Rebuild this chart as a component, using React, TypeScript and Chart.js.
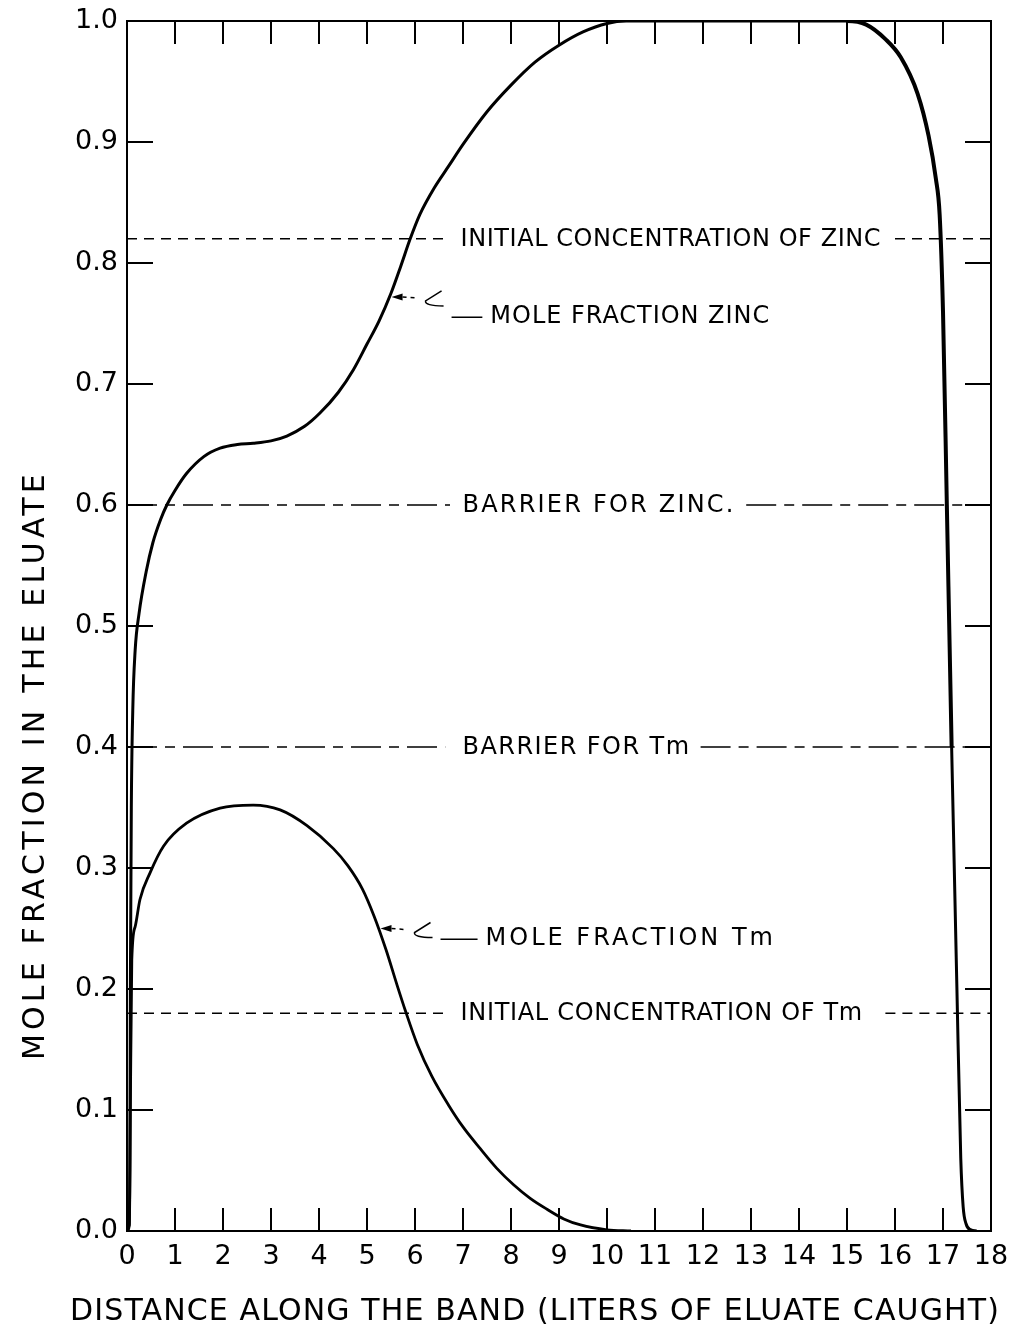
import React, { useEffect, useRef } from "react";
import { Chart, registerables } from "chart.js";

Chart.register(...registerables);

// ---- data ----
const zincX = [0, 0.04, 0.06, 0.07, 0.09, 0.12, 0.17, 0.25, 0.4, 0.54, 0.7, 0.83, 1.0, 1.24, 1.6, 1.94, 2.3, 2.63, 3.0, 3.33, 3.7, 4.02, 4.4, 4.72, 5.0, 5.25, 5.5, 5.7, 5.9, 6.1, 6.4, 6.7, 7.0, 7.5, 8.0, 8.5, 9.0, 9.5, 10.0, 10.4, 15.0, 15.4, 15.8, 16.12, 16.47, 16.7, 16.85, 16.93, 17.0, 17.08, 17.18, 17.29, 17.37, 17.42, 17.48, 17.58, 17.7];
const zincY = [0, 0.005, 0.05, 0.2, 0.35, 0.43, 0.48, 0.51, 0.545, 0.569, 0.588, 0.6, 0.612, 0.626, 0.64, 0.647, 0.65, 0.651, 0.653, 0.657, 0.665, 0.676, 0.693, 0.712, 0.733, 0.752, 0.775, 0.797, 0.82, 0.84, 0.862, 0.88, 0.898, 0.925, 0.947, 0.966, 0.98, 0.991, 0.998, 1.0, 1.0, 0.997, 0.985, 0.97, 0.94, 0.905, 0.87, 0.84, 0.76, 0.6, 0.4, 0.2, 0.06, 0.02, 0.006, 0.001, 0];

const tmX = [0, 0.05, 0.07, 0.1, 0.17, 0.27, 0.48, 0.76, 1.24, 1.94, 2.63, 3.19, 3.75, 4.3, 4.6, 4.9, 5.15, 5.4, 5.62, 5.8, 6.05, 6.35, 6.7, 7.0, 7.36, 7.7, 8.06, 8.4, 8.75, 9.1, 9.45, 10.0, 10.5];
const tmY = [0, 0.005, 0.1, 0.224, 0.2515, 0.274, 0.296, 0.318, 0.337, 0.3495, 0.352, 0.348, 0.335, 0.316, 0.302, 0.283, 0.26, 0.232, 0.204, 0.182, 0.154, 0.128, 0.104, 0.086, 0.068, 0.052, 0.038, 0.027, 0.018, 0.01, 0.005, 0.001, 0];

const xTickValues = [0, 1, 2, 3, 4, 5, 6, 7, 8, 9, 10, 11, 12, 13, 14, 15, 16, 17, 18];
const yTickValues = [0, 0.1, 0.2, 0.3, 0.4, 0.5, 0.6, 0.7, 0.8, 0.9, 1.0];

const refLevels = [0.82, 0.6, 0.4, 0.18];
const refLabels = ["INITIAL CONCENTRATION OF ZINC", "BARRIER FOR ZINC.", "BARRIER FOR Tm", "INITIAL CONCENTRATION OF Tm"];
const refGapStart = [6.67, 6.73, 6.63, 6.67];
const refGapEnd = [16.0, 12.9, 11.95, 15.8];
const refLabelStart = [6.95, 6.99, 6.99, 6.95];
const refLabelEnd = [15.71, 12.68, 11.74, 15.33];

const curveLabels = ["MOLE FRACTION ZINC", "MOLE FRACTION Tm"];
const curveLabelStart = [7.57, 7.47];
const curveLabelEnd = [13.4, 13.52];
const curveLabelY = [0.756, 0.242];
const curveArrowX = [5.47, 5.24];
const curveArrowY = [0.772, 0.25];

const xTitle = "DISTANCE ALONG THE BAND (LITERS OF ELUATE CAUGHT)";
const yTitle = "MOLE FRACTION IN THE ELUATE";

const FONT = "'DejaVu Sans', 'Liberation Sans', sans-serif";

function fitText(ctx: CanvasRenderingContext2D, text: string, x: number, y: number, width: number) {
  (ctx as any).letterSpacing = "0px";
  const w = ctx.measureText(text).width;
  const ls = (width - w) / Math.max(text.length, 1);
  (ctx as any).letterSpacing = ls + "px";
  ctx.textAlign = "left";
  ctx.fillText(text, x, y);
  (ctx as any).letterSpacing = "0px";
}

const decor = {
  id: "decor",
  afterDatasetsDraw(chart: any) {
    const { ctx, chartArea: ca, scales } = chart;
    const xs = scales.x;
    const ys = scales.y;
    ctx.save();
    ctx.strokeStyle = "#000";
    ctx.fillStyle = "#000";
    ctx.setLineDash([]);
    // frame
    ctx.lineWidth = 2;
    ctx.strokeRect(ca.left, ca.top, ca.right - ca.left, ca.bottom - ca.top);
    // inward ticks
    const seg = (x1: number, y1: number, x2: number, y2: number) => {
      ctx.beginPath();
      ctx.moveTo(x1, y1);
      ctx.lineTo(x2, y2);
      ctx.stroke();
    };
    for (const v of xTickValues) {
      if (v === xTickValues[0] || v === xTickValues[xTickValues.length - 1]) continue;
      const px = xs.getPixelForValue(v);
      seg(px, ca.top, px, ca.top + 23);
      seg(px, ca.bottom, px, ca.bottom - 23);
    }
    for (const v of yTickValues) {
      if (v === 0 || v === 1) continue;
      const py = ys.getPixelForValue(v);
      seg(ca.left, py, ca.left + 26, py);
      seg(ca.right - 26, py, ca.right, py);
    }
    // reference labels
    ctx.font = `24px ${FONT}`;
    ctx.textBaseline = "middle";
    refLabels.forEach((t, i) => {
      const x1 = xs.getPixelForValue(refLabelStart[i]);
      const x2 = xs.getPixelForValue(refLabelEnd[i]);
      fitText(ctx, t, x1, ys.getPixelForValue(refLevels[i]) + 1, x2 - x1);
    });
    // curve labels with pointers
    curveLabels.forEach((t, i) => {
      const x1 = xs.getPixelForValue(curveLabelStart[i]);
      const x2 = xs.getPixelForValue(curveLabelEnd[i]);
      const ly = ys.getPixelForValue(curveLabelY[i]);
      fitText(ctx, t, x1, ly + 1, x2 - x1);
      const ax = xs.getPixelForValue(curveArrowX[i]) + 2;
      const ay = ys.getPixelForValue(curveArrowY[i]);
      // arrow head
      ctx.beginPath();
      ctx.moveTo(ax, ay);
      ctx.lineTo(ax + 11, ay - 3.5);
      ctx.lineTo(ax + 11, ay + 3.5);
      ctx.closePath();
      ctx.fill();
      ctx.lineWidth = 1.5;
      ctx.setLineDash([4, 4]);
      seg(ax + 11, ay, ax + 24, ay + 1);
      ctx.setLineDash([]);
      // squiggle "<"
      ctx.beginPath();
      ctx.moveTo(ax + 50, ay - 6);
      ctx.lineTo(ax + 34, ay + 4);
      ctx.quadraticCurveTo(ax + 33, ay + 9, ax + 52, ay + 9);
      ctx.stroke();
      seg(ax + 60, ly + 1, x1 - 8, ly + 1);
    });
    // axis titles
    ctx.font = `30px ${FONT}`;
    ctx.textBaseline = "middle";
    fitText(ctx, xTitle, 70, 1312, 930);
    ctx.translate(36, 765);
    ctx.rotate(-Math.PI / 2);
    fitText(ctx, yTitle, -295, 0, 590);
    ctx.restore();
  },
};

function refDataset(i: number) {
  const v = refLevels[i];
  const dashed = i === 0 || i === 3;
  return {
    data: [
      { x: 0, y: v },
      { x: refGapStart[i], y: v },
      { x: (refGapStart[i] + refGapEnd[i]) / 2, y: null },
      { x: refGapEnd[i], y: v },
      { x: 18, y: v },
    ],
    borderColor: "#000",
    borderWidth: 1.6,
    borderDash: dashed ? [10, 7] : [30, 8, 10, 8],
    pointRadius: 0,
    spanGaps: false,
    tension: 0,
  };
}

export default function App() {
  const ref = useRef<HTMLCanvasElement | null>(null);
  useEffect(() => {
    if (!ref.current) return;
    const chart = new Chart(ref.current, {
      type: "line",
      data: {
        datasets: [
          {
            data: zincX.map((x, i) => ({ x, y: zincY[i] })),
            borderColor: "#000",
            borderWidth: 3,
            pointRadius: 0,
            cubicInterpolationMode: "monotone",
            segment: {
              borderWidth: (c: any) => (c.p0.parsed.x >= 15 && c.p1.parsed.y > 0.3 ? 4 : 3),
            },
          } as any,
          {
            data: tmX.map((x, i) => ({ x, y: tmY[i] })),
            borderColor: "#000",
            borderWidth: 2.8,
            pointRadius: 0,
            cubicInterpolationMode: "monotone",
          } as any,
          ...refLevels.map((_, i) => refDataset(i) as any),
        ],
      },
      options: {
        animation: false,
        responsive: false,
        events: [],
        layout: { padding: { top: 21, right: 20, left: 0, bottom: 0 } },
        plugins: { legend: { display: false }, tooltip: { enabled: false } },
        scales: {
          x: {
            type: "linear",
            min: 0,
            max: 18,
            grid: { display: false, drawTicks: false },
            border: { display: false },
            ticks: {
              stepSize: 1,
              autoSkip: false,
              maxRotation: 0,
              color: "#000",
              padding: 10,
              font: { family: FONT, size: 27 },
              callback: (v: any) => String(Math.round(Number(v))),
            },
            afterFit: (s: any) => {
              s.height = 109;
              s.paddingLeft = 0;
              s.paddingRight = 0;
            },
          },
          y: {
            type: "linear",
            min: 0,
            max: 1,
            grid: { display: false, drawTicks: false },
            border: { display: false },
            ticks: {
              stepSize: 0.1,
              autoSkip: false,
              color: "#000",
              padding: 9,
              font: { family: FONT, size: 27 },
              callback: (v: any) => Number(v).toFixed(1),
            },
            afterFit: (s: any) => {
              s.width = 127;
              s.paddingTop = 0;
              s.paddingBottom = 0;
            },
          },
        },
      } as any,
      plugins: [decor],
    });
    return () => chart.destroy();
  }, []);
  return (
    <div style={{ position: "absolute", left: 0, top: 0, width: 1011, height: 1340, background: "#fff" }}>
      <canvas ref={ref} width={1011} height={1340} style={{ display: "block", width: 1011, height: 1340 }} />
    </div>
  );
}
